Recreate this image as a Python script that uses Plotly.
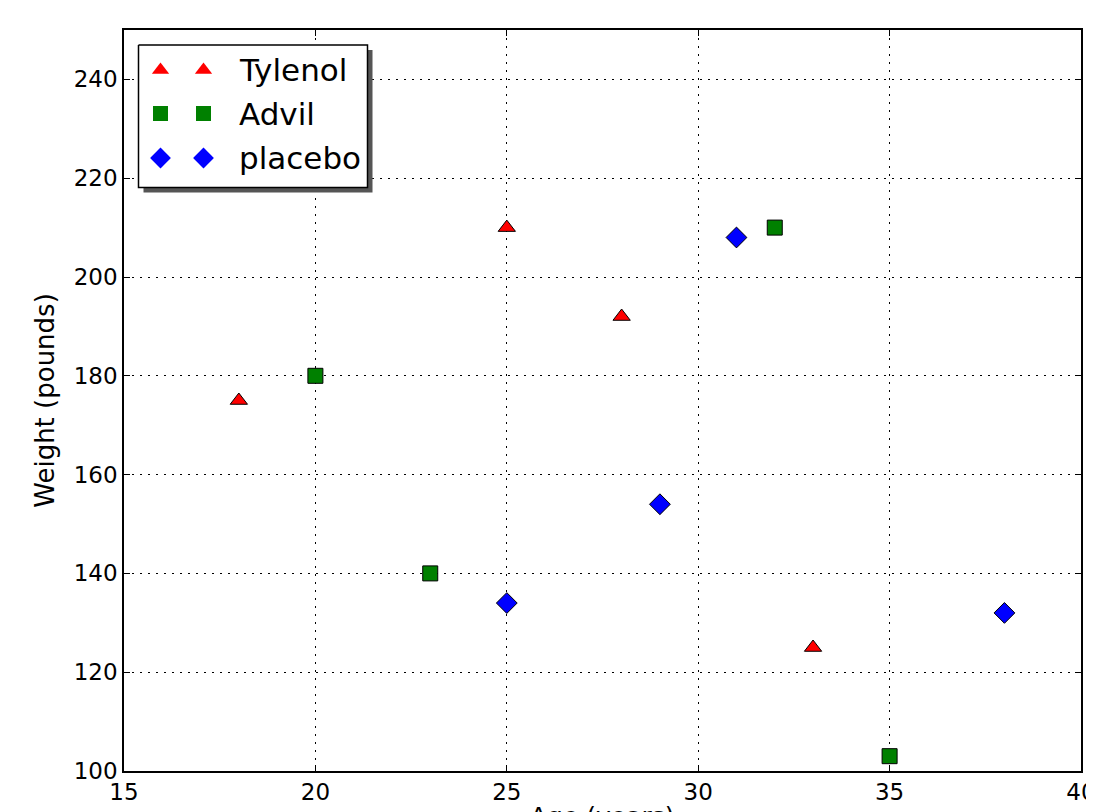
import plotly.graph_objects as go

# Data
tylenol_age = [18, 25, 28, 33]
tylenol_weight = [175, 210, 192, 125]
advil_age = [20, 23, 32, 35]
advil_weight = [180, 140, 210, 103]
placebo_age = [25, 29, 31, 38]
placebo_weight = [134, 154, 208, 132]

x_ticks = [15, 20, 25, 30, 35, 40]
y_ticks = [100, 120, 140, 160, 180, 200, 220, 240]

series = [
    ("Tylenol", tylenol_age, tylenol_weight, "red", "triangle-up", 15),
    ("Advil", advil_age, advil_weight, "green", "square", 15),
    ("placebo", placebo_age, placebo_weight, "blue", "diamond", 16),
]

FONT = "DejaVu Sans"
fig = go.Figure()

for name, xs, ys, color, sym, size in series:
    fig.add_trace(go.Scatter(
        x=xs, y=ys, mode="markers", name=name, showlegend=False,
        marker=dict(color=color, symbol=sym, size=size,
                    line=dict(color="black", width=1)),
    ))

# Page offset (default body margin of the html page)
OFF = 8
FIG_W, FIG_H = 1094, 812
# Plot area in page pixels
L, R, T, B = 124, 1081, 30, 771

# Custom legend (matplotlib style, two markers per entry) on an overlay pixel axis
bx0, by0, bx1, by1 = 138.5, 45, 367.5, 187.5
sh = 5
fig.add_trace(go.Scatter(
    x=[bx0 + sh, bx1 + sh, bx1 + sh, bx0 + sh, bx0 + sh],
    y=[by0 + sh, by0 + sh, by1 + sh, by1 + sh, by0 + sh],
    mode="lines", fill="toself", fillcolor="#555555", line=dict(width=0),
    xaxis="x2", yaxis="y2", showlegend=False, hoverinfo="skip"))
fig.add_trace(go.Scatter(
    x=[bx0, bx1, bx1, bx0, bx0], y=[by0, by0, by1, by1, by0],
    mode="lines", fill="toself", fillcolor="white",
    line=dict(color="black", width=1.5),
    xaxis="x2", yaxis="y2", showlegend=False, hoverinfo="skip"))

rows_y = [70, 113.5, 158]
col_x = [160.5, 203.5]
for (name, xs, ys, color, sym, size), ry in zip(series, rows_y):
    fig.add_trace(go.Scatter(
        x=col_x, y=[ry, ry], mode="markers", showlegend=False, hoverinfo="skip",
        xaxis="x2", yaxis="y2",
        marker=dict(color=color, symbol=sym, size=size, line=dict(width=0)),
    ))
    fig.add_annotation(x=237, y=ry, xref="x2", yref="y2",
                       text=name, showarrow=False, xanchor="left", yanchor="middle",
                       font=dict(family=FONT, size=31, color="black"))

# X axis title (mostly below the visible page, as in the reference)
fig.add_annotation(x=0.5, y=0, xref="paper", yref="paper", yshift=-29,
                   text="Age (years)", showarrow=False, xanchor="center",
                   yanchor="top", font=dict(family=FONT, size=25, color="black"))

axis_common = dict(
    showline=True, linecolor="black", linewidth=1.5, mirror="ticks",
    ticks="inside", ticklen=6, tickwidth=1, tickcolor="black",
    showgrid=True, gridcolor="black", gridwidth=1, griddash="2px,6px",
    zeroline=False, tickfont=dict(family=FONT, size=23, color="black"),
    automargin=False,
)

fig.update_layout(
    width=FIG_W, height=FIG_H,
    margin=dict(l=L - OFF, r=FIG_W - (R - OFF), t=T - OFF, b=FIG_H - (B - OFF), pad=0),
    plot_bgcolor="white", paper_bgcolor="white",
    font=dict(family=FONT, color="black"),
    xaxis=dict(range=[15, 40], tickvals=x_ticks, **axis_common),
    yaxis=dict(range=[100, 250], tickvals=y_ticks, **axis_common,
               title=dict(text="Weight (pounds)", font=dict(family=FONT, size=26),
                          standoff=12)),
    xaxis2=dict(range=[L, R], overlaying="x", visible=False, showgrid=False),
    yaxis2=dict(range=[B, T], overlaying="y", visible=False, showgrid=False),
    showlegend=False,
)

fig.write_html("out.html")
